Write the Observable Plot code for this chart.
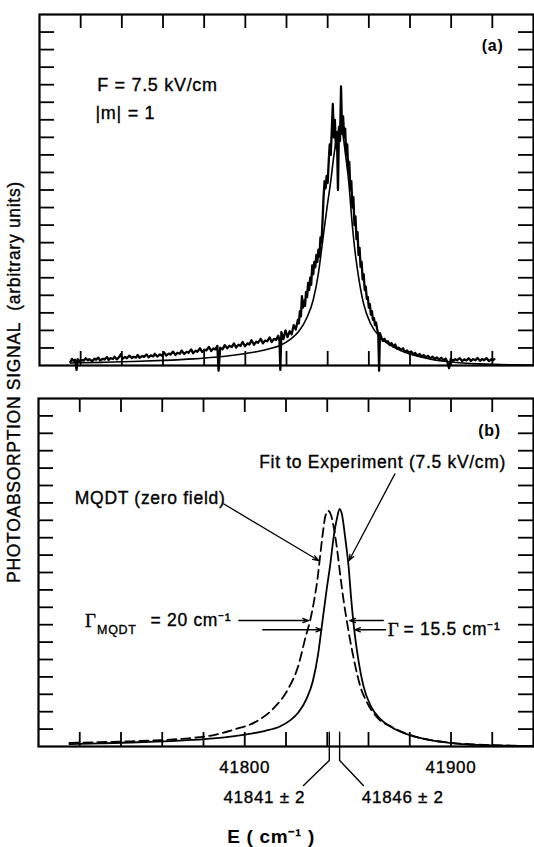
<!DOCTYPE html>
<html><head><meta charset="utf-8">
<script src="https://cdn.jsdelivr.net/npm/d3@7"></script>
<script src="https://cdn.jsdelivr.net/npm/@observablehq/plot@0.6"></script>
<style>
body{margin:0;background:#fff;}
#wrap{position:relative;width:534px;height:847px;overflow:hidden;font-family:"Liberation Sans",Arial,sans-serif;color:#000;}
#pa{position:absolute;left:0;top:0;}
#pb{position:absolute;left:0;top:384px;}
#wrap svg text{letter-spacing:0.7px;}
#ylab{position:absolute;left:14px;top:382px;transform:translate(-50%,-50%) rotate(-90deg);white-space:nowrap;font-size:17.5px;letter-spacing:0.7px;-webkit-text-stroke:0.35px #000;}
</style></head><body>
<div id="wrap"><div id="pa"></div><div id="pb"></div><div id="ylab">PHOTOABSORPTION SIGNAL&nbsp;&nbsp;(arbitrary units)</div></div>
<script>
// ---------- data ----------
const xDomain = [41700, 41940];
const yDomain = [0, 20];
const xTicks = [41720, 41740, 41760, 41780, 41800, 41820, 41840, 41860, 41880, 41900, 41920];
const yTicks = [1, 2, 3, 4, 5, 6, 7, 8, 9, 10, 11, 12, 13, 14, 15, 16, 17, 18, 19];
const xTickLabels = [41800, 41900];

// Fit to experiment (7.5 kV/cm), [E, signal]
const fitCurve = [
  [41715, 0.14], [41730, 0.18], [41745, 0.23], [41760, 0.29], [41775, 0.38], [41785, 0.47],
  [41795, 0.6], [41803, 0.74], [41810, 0.9], [41817, 1.15], [41822, 1.5], [41826, 1.95],
  [41830, 2.75], [41833, 3.75], [41835.5, 5.25], [41837.4, 6.95], [41839.8, 9.1], [41841.5, 10.5],
  [41843, 11.95], [41844.7, 13.1], [41846, 13.65], [41847.2, 13.3], [41848.7, 12.0], [41850.3, 10.4],
  [41851.6, 8.5], [41853, 6.8], [41855, 5.05], [41857.5, 3.5], [41861, 2.35], [41865.6, 1.6],
  [41872, 1.05], [41880, 0.65], [41890, 0.36], [41900, 0.2], [41914, 0.09], [41930, 0.04], [41940, 0.03]
];

// MQDT (zero field), [E, signal]
const mqdtCurve = [
  [41715, 0.21], [41730, 0.25], [41745, 0.3], [41760, 0.37], [41775, 0.5], [41785, 0.66],
  [41795, 0.98], [41805, 1.4], [41814, 2.2], [41821, 3.3], [41826, 4.65], [41829.3, 6.2],
  [41832, 7.4], [41833.5, 8.3], [41835.3, 9.66], [41836.6, 11.0], [41837.9, 12.3], [41839, 13.2],
  [41840.5, 13.55], [41841.8, 13.3], [41843, 12.7], [41844.7, 11.4], [41846.3, 9.85], [41847.8, 8.5],
  [41849.5, 7.2], [41851.1, 6.1], [41853.5, 4.68], [41855.9, 3.5], [41859.2, 2.55], [41864, 1.7],
  [41872, 1.08], [41880, 0.66], [41890, 0.37], [41900, 0.21], [41914, 0.1], [41930, 0.05], [41940, 0.03]
];

// Experimental trace, panel (a), [E, signal]
const expData = [
  [41715, 0.20], [41715.8, 0.38], [41716.5, 0.26], [41717.3, 0.33], [41718, -0.25], [41718.6, 0.36],
  [41719.5, 0.24], [41720.8, 0.31], [41721.6, 0.28], [41722.4, 0.41], [41723.5, 0.30], [41724.2, 0.36],
  [41725.5, 0.25], [41726.8, 0.39], [41727.5, 0.33], [41728.6, 0.45], [41729.4, 0.29], [41730.8, 0.38],
  [41731.5, 0.34], [41732.8, 0.48], [41733.6, 0.32], [41734.5, 0.42], [41735.7, 0.37], [41736.4, 0.50],
  [41737.6, 0.35], [41738.5, 0.46], [41739.5, 0.64], [41740.3, 0.38], [41741.6, 0.49], [41742.4, 0.41],
  [41743.7, 0.56], [41744.8, 0.43], [41745.6, 0.50], [41746.9, 0.45], [41747.7, 0.60], [41748.6, 0.44],
  [41750, 0.54], [41750.8, 0.49], [41752, 0.63], [41753, 0.47], [41754.1, 0.58], [41755.3, 0.52],
  [41756, 0.67], [41757.2, 0.51], [41758.5, 0.63], [41759.4, 0.56], [41760.6, 0.74], [41761.5, 0.57],
  [41762.8, 0.68], [41763.6, 0.62], [41764.9, 0.79], [41766, 0.60], [41767, 0.73], [41768.2, 0.67],
  [41769, 0.85], [41770.3, 0.66], [41771.5, 0.78], [41772.4, 0.72], [41773.7, 0.92], [41774.6, 0.70],
  [41775.8, 0.84], [41776.7, 0.78], [41778, 0.98], [41779, 0.77], [41780.2, 0.90], [41781.1, 0.86],
  [41782.3, 1.06], [41783.4, 0.83], [41784.5, 0.97], [41785.5, 0.92], [41786.4, 1.12], [41787, -0.3],
  [41787.8, 1.02], [41789, 0.93], [41790, 1.16], [41791.2, 0.98], [41792.3, 1.12], [41793.4, 1.05],
  [41794.5, 1.26], [41795.5, 1.02], [41796.7, 1.18], [41797.6, 1.12], [41798.7, 1.34], [41799.8, 1.1],
  [41801, 1.26], [41802, 1.2], [41803, 1.44], [41804.2, 1.18], [41805.3, 1.36], [41806.2, 1.3],
  [41807.5, 1.52], [41808.5, 1.26], [41809.6, 1.42], [41810.6, 1.38], [41811.8, 1.6], [41812.8, 1.34],
  [41814, 1.52], [41815, 1.46], [41816, 1.7], [41816.6, 1.42], [41817, -0.25],
  [41817.5, 1.9], [41818.5, 1.50], [41819.5, 2.0], [41820.5, 1.62], [41821.5, 1.95], [41822.5, 1.78],
  [41823.5, 2.3], [41824.5, 2.05], [41825.5, 2.6], [41826, 2.4], [41826.5, 3.1], [41827, 2.8],
  [41827.5, 3.95], [41828, 3.3], [41828.5, 3.7], [41829, 3.4], [41829.5, 4.2], [41830, 3.9],
  [41830.5, 4.7], [41831, 4.3], [41831.5, 5.0], [41832, 4.6], [41832.5, 5.7], [41833, 5.2],
  [41833.5, 5.9], [41834, 5.6], [41834.5, 6.3], [41835, 5.9], [41835.5, 6.6], [41836, 6.2],
  [41836.5, 7.3], [41837, 7.0], [41837.5, 8.2], [41838, 9.6], [41838.5, 10.5], [41839, 10.1],
  [41839.5, 10.8], [41840, 10.4], [41840.5, 11.6], [41841, 12.6], [41841.5, 12.0], [41842, 13.4],
  [41842.5, 14.9], [41843, 13.0], [41843.5, 14.0], [41844, 12.4], [41844.5, 13.3], [41845, 10.0],
  [41845.5, 13.6], [41846, 12.8], [41846.5, 15.9], [41847, 13.2], [41847.5, 14.2], [41848, 13.0],
  [41848.5, 13.5], [41849, 12.0], [41849.5, 12.6], [41850, 11.0], [41850.5, 11.6], [41851, 10.0],
  [41851.5, 10.5], [41852, 9.0], [41852.5, 9.6], [41853, 8.0], [41853.5, 8.5], [41854, 7.2],
  [41854.5, 7.6], [41855, 6.3], [41855.5, 6.7], [41856, 5.6], [41856.5, 5.9], [41857, 4.9],
  [41857.5, 5.2], [41858, 4.3], [41858.5, 4.5], [41859, 3.8], [41859.5, 3.9], [41860, 3.3],
  [41860.5, 3.5], [41861, 2.9], [41861.5, 3.1], [41862, 2.6], [41862.5, 2.7], [41863, 2.3],
  [41863.5, 2.45], [41864, 2.1], [41864.6, 1.75], [41865, -0.3], [41865.4, 1.85],
  [41866, 1.62], [41866.8, 1.4], [41867.6, 1.52], [41868.5, 1.34], [41869.3, 1.38], [41870.2, 1.16],
  [41871, 1.28], [41872, 1.08], [41872.8, 1.2], [41873.8, 0.96], [41874.6, 1.02], [41875.5, 0.88],
  [41876.6, 0.98], [41877.5, 0.76], [41878.6, 0.86], [41879.5, 0.7], [41880.6, 0.8], [41881.6, 0.62],
  [41882.5, 0.72], [41883.6, 0.56], [41884.7, 0.66], [41885.7, 0.5], [41886.6, 0.6], [41887.8, 0.46],
  [41888.7, 0.55], [41889.8, 0.42], [41891, 0.5], [41892, 0.36], [41893, 0.46], [41894.2, 0.33],
  [41895.2, 0.44], [41896.4, 0.3], [41897.3, 0.4], [41898, 0.24], [41899, -0.15], [41899.8, 0.38],
  [41900.8, 0.27], [41902, 0.36], [41903, 0.3], [41904.2, 0.42], [41905.3, 0.26], [41906.4, 0.35],
  [41907.4, 0.29], [41908.5, 0.41], [41909.6, 0.26], [41910.6, 0.36], [41911.8, 0.3], [41912.8, 0.43],
  [41914, 0.27], [41915, 0.37], [41916, 0.3], [41917.2, 0.42], [41918.3, 0.26], [41919.4, 0.35],
  [41920.3, 0.3], [41921, 0.36]
];

// Annotations (data coordinates)
const panelTagA = [{E: 41925.4, S: 18.23, t: "(a)"}];
const notesA = [
  {E: 41728, S: 15.95, t: "F = 7.5 kV/cm"},
  {E: 41727.2, S: 14.36, t: "|m| = 1"}
];
const panelTagB = [{E: 41924.1, S: 18.16, t: "(b)"}];
const notesB = [
  {E: 41807, S: 16.34, t: "Fit to Experiment (7.5 kV/cm)"},
  {E: 41717.6, S: 14.25, t: "MQDT (zero field)"},
  {E: 41754.3, S: 7.24, t: "= 20 cm\u207B\u00B9"},
  {E: 41877, S: 6.71, t: "= 15.5 cm\u207B\u00B9"}
];
const peakLabels = [
  {E: 41809.5, S: -2.95, t: "41841 \u00B1 2"},
  {E: 41876.6, S: -2.95, t: "41846 \u00B1 2"}
];
const gammaB = [{E: 41722.6, S: 7.24}, {E: 41869.3, S: 6.71}];
const subB = [{E: 41728.4, S: 6.72, t: "MQDT"}];
const arrowsB = [
  {x1: 41789.7, y1: 13.95, x2: 41835.8, y2: 10.69},
  {x1: 41872.8, y1: 15.67, x2: 41850.6, y2: 10.69},
  {x1: 41797.1, y1: 7.24, x2: 41830.9, y2: 7.24},
  {x1: 41808.7, y1: 6.71, x2: 41837.3, y2: 6.71},
  {x1: 41867.2, y1: 7.24, x2: 41850.9, y2: 7.24},
  {x1: 41868.3, y1: 6.71, x2: 41853.3, y2: 6.71}
];
const peakMarks = [
  {g: "a", E: 41841, S: 0.82}, {g: "a", E: 41841, S: -0.8}, {g: "a", E: 41828.5, S: -2.24},
  {g: "b", E: 41846, S: 0.82}, {g: "b", E: 41846, S: -0.8}, {g: "b", E: 41857.5, S: -2.24}
];
const xLabel = [{E: 41812.8, S: -5.17, t: "E ( cm\u207B\u00B9 )"}];

// ---------- layout ----------
const W = 534;
const font = "Liberation Sans, Arial, sans-serif";
const ink = {fill: "#000", stroke: "#000", strokeWidth: 0.35};

function axesMarks(fw, fh) {
  return [
    Plot.tickY(yTicks, {y: d => d, insetRight: fw - 15, strokeWidth: 1.8}),
    Plot.tickY(yTicks, {y: d => d, insetLeft: fw - 15, strokeWidth: 1.8}),
    Plot.tickX(xTicks, {x: d => d, insetBottom: fh - 14, strokeWidth: 1.8}),
    Plot.tickX(xTicks, {x: d => d, insetTop: fh - 14, strokeWidth: 1.8}),
    Plot.frame({strokeWidth: 2.2})
  ];
}

// Panel (a)
const A = {h: 380, mt: 14, mb: 15, ml: 39, mr: 1};
const fwA = W - A.ml - A.mr, fhA = A.h - A.mt - A.mb;
const plotA = Plot.plot({
  width: W, height: A.h, marginTop: A.mt, marginBottom: A.mb, marginLeft: A.ml, marginRight: A.mr,
  style: {fontFamily: font, background: "transparent", overflow: "visible"},
  x: {domain: xDomain, axis: null},
  y: {domain: yDomain, axis: null},
  marks: [
    ...axesMarks(fwA, fhA),
    Plot.line(fitCurve, {x: d => d[0], y: d => d[1], curve: "monotone-x", strokeWidth: 1.6, stroke: "#000"}),
    Plot.line(expData, {x: d => d[0], y: d => d[1], strokeWidth: 2.3, stroke: "#000", strokeLinejoin: "round"}),
    Plot.text(panelTagA, {x: "E", y: "S", text: "t", textAnchor: "end", fontSize: 16, fontWeight: "bold", fill: "#000"}),
    Plot.text(notesA, {x: "E", y: "S", text: "t", textAnchor: "start", fontSize: 18, ...ink})
  ]
});
document.getElementById("pa").appendChild(plotA);

// Panel (b)
const B = {h: 463, mt: 14, mb: 101, ml: 38, mr: 1};
const fwB = W - B.ml - B.mr, fhB = B.h - B.mt - B.mb;
const plotB = Plot.plot({
  width: W, height: B.h, marginTop: B.mt, marginBottom: B.mb, marginLeft: B.ml, marginRight: B.mr,
  style: {fontFamily: font, background: "transparent", overflow: "visible"},
  x: {domain: xDomain, axis: null},
  y: {domain: yDomain, axis: null},
  marks: [
    ...axesMarks(fwB, fhB),
    Plot.line(mqdtCurve, {x: d => d[0], y: d => d[1], curve: "monotone-x", strokeWidth: 1.8, stroke: "#000", strokeDasharray: "9,5"}),
    Plot.line(fitCurve, {x: d => d[0], y: d => d[1], curve: "monotone-x", strokeWidth: 1.8, stroke: "#000"}),
    Plot.line(peakMarks, {x: "E", y: "S", z: "g", strokeWidth: 1.4, stroke: "#000"}),
    Plot.arrow(arrowsB, {x1: "x1", y1: "y1", x2: "x2", y2: "y2", headLength: 7, headAngle: 40, strokeWidth: 1.3, stroke: "#000"}),
    Plot.text(panelTagB, {x: "E", y: "S", text: "t", textAnchor: "end", fontSize: 16, fontWeight: "bold", fill: "#000"}),
    Plot.text(notesB, {x: "E", y: "S", text: "t", textAnchor: "start", fontSize: 17.5, ...ink}),
    Plot.text(gammaB, {x: "E", y: "S", text: () => "\u0393", textAnchor: "start", fontSize: 19,
      fontFamily: "Liberation Serif, DejaVu Serif, serif", ...ink}),
    Plot.text(subB, {x: "E", y: "S", text: "t", textAnchor: "start", fontSize: 12.5, ...ink}),
    Plot.text(peakLabels, {x: "E", y: "S", text: "t", textAnchor: "middle", fontSize: 17, ...ink}),
    Plot.text(xTickLabels, {x: d => d, y: () => -1.2, text: d => String(d), fontSize: 17, ...ink}),
    Plot.text(xLabel, {x: "E", y: "S", text: "t", fontSize: 19, fontWeight: "bold", fill: "#000"})
  ]
});
document.getElementById("pb").appendChild(plotB);
</script>
</body></html>
